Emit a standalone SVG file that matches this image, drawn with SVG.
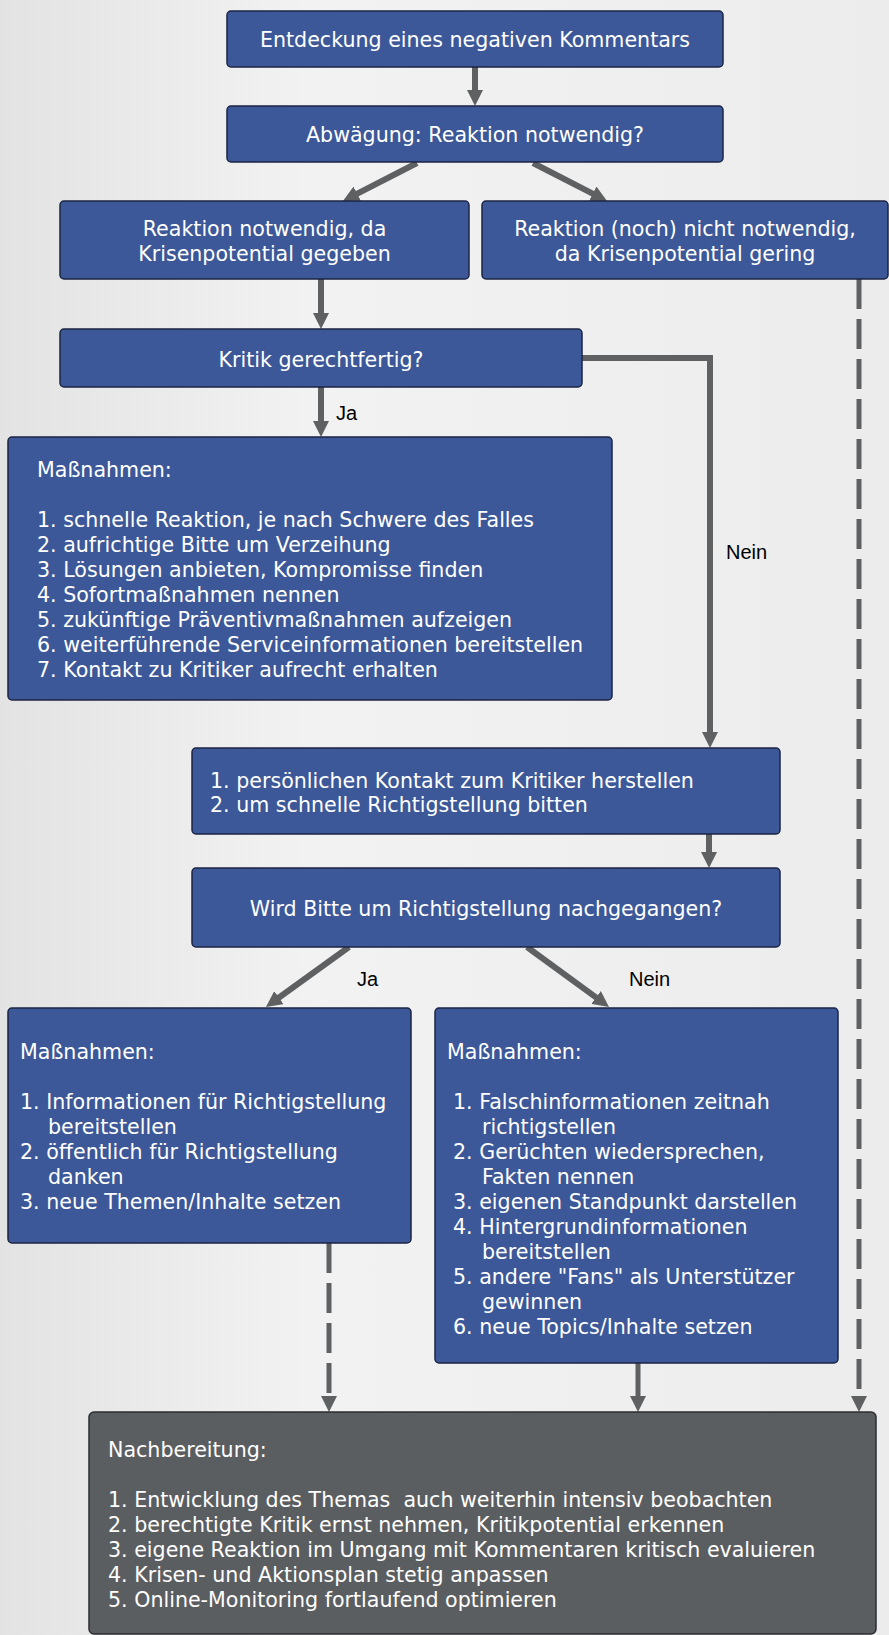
<svg xmlns="http://www.w3.org/2000/svg" width="889" height="1635" viewBox="0 0 889 1635">
  <defs>
    <linearGradient id="bg" x1="0" y1="0" x2="1" y2="0">
      <stop offset="0" stop-color="#e3e3e3"/>
      <stop offset="0.35" stop-color="#f2f2f2"/>
      <stop offset="1" stop-color="#ececec"/>
    </linearGradient>
    <marker id="ah" markerUnits="userSpaceOnUse" markerWidth="16" markerHeight="16" refX="2" refY="8" orient="auto">
      <path d="M0,0 L16,8 L0,16 z" fill="#5e6062"/>
    </marker>
    <style>
      .box { fill: #3c5898; stroke: #1b2544; stroke-width: 1.5; }
      .gbox { fill: #5b5e61; stroke: #2b2d30; stroke-width: 1.5; }
      .t { font-family: "DejaVu Sans", Verdana, sans-serif; font-size: 20.6px; fill: #ffffff; white-space: pre; }
      .c { text-anchor: middle; }
      .lbl { font-family: "Liberation Sans", Arial, sans-serif; font-size: 20px; fill: #000000; }
      .ln { fill: none; stroke: #5e6062; stroke-width: 6; }
      .dl { fill: none; stroke: #5e6062; stroke-width: 5; stroke-dasharray: 30 10; }
    </style>
  </defs>
  <rect x="0" y="0" width="889" height="1635" fill="url(#bg)"/>

  <g id="connectors">
    <line class="ln" x1="475" y1="67" x2="475" y2="92" marker-end="url(#ah)"/>
    <line class="ln" x1="417" y1="163" x2="355.4" y2="194.6" marker-end="url(#ah)"/>
    <line class="ln" x1="533" y1="163" x2="594.6" y2="194.6" marker-end="url(#ah)"/>
    <line class="ln" x1="321" y1="279" x2="321" y2="315" marker-end="url(#ah)"/>
    <line class="ln" x1="321" y1="387" x2="321" y2="423" marker-end="url(#ah)"/>
    <polyline class="ln" points="582,358 710,358 710,734" marker-end="url(#ah)"/>
    <line class="ln" x1="709" y1="834" x2="709" y2="854" marker-end="url(#ah)"/>
    <line class="ln" x1="349" y1="947" x2="277.3" y2="998.8" marker-end="url(#ah)"/>
    <line class="ln" x1="527" y1="947" x2="597.7" y2="998.7" marker-end="url(#ah)"/>
    <line class="dl" x1="859" y1="279" x2="859" y2="1398" marker-end="url(#ah)"/>
    <line class="dl" x1="329" y1="1243" x2="329" y2="1398" marker-end="url(#ah)"/>
    <line class="ln" x1="638" y1="1363" x2="638" y2="1398" marker-end="url(#ah)" style="stroke-width:5"/>
    <text class="lbl" x="336" y="420">Ja</text>
    <text class="lbl" x="726" y="559">Nein</text>
    <text class="lbl" x="357" y="986">Ja</text>
    <text class="lbl" x="629" y="986">Nein</text>
  </g>

  <g id="n1">
    <rect class="box" x="227" y="11" width="496" height="56" rx="4"/>
    <text class="t c" x="475" y="47">Entdeckung eines negativen Kommentars</text>
  </g>
  <g id="n2">
    <rect class="box" x="227" y="106" width="496" height="56" rx="4"/>
    <text class="t c" x="475" y="142">Abwägung: Reaktion notwendig?</text>
  </g>
  <g id="n3">
    <rect class="box" x="60" y="201" width="409" height="78" rx="4"/>
    <text class="t c" x="264.5" y="236">Reaktion notwendig, da</text>
    <text class="t c" x="264.5" y="261">Krisenpotential gegeben</text>
  </g>
  <g id="n4">
    <rect class="box" x="482" y="201" width="406" height="78" rx="4"/>
    <text class="t c" x="685" y="236">Reaktion (noch) nicht notwendig,</text>
    <text class="t c" x="685" y="261">da Krisenpotential gering</text>
  </g>
  <g id="n5">
    <rect class="box" x="60" y="329" width="522" height="58" rx="4"/>
    <text class="t c" x="321" y="367">Kritik gerechtfertig?</text>
  </g>
  <g id="n6">
    <rect class="box" x="8" y="437" width="604" height="263" rx="4"/>
    <text class="t" x="37" y="477">Maßnahmen:</text>
    <text class="t" x="37" y="527">1. schnelle Reaktion, je nach Schwere des Falles</text>
    <text class="t" x="37" y="552">2. aufrichtige Bitte um Verzeihung</text>
    <text class="t" x="37" y="577">3. Lösungen anbieten, Kompromisse finden</text>
    <text class="t" x="37" y="602">4. Sofortmaßnahmen nennen</text>
    <text class="t" x="37" y="627">5. zukünftige Präventivmaßnahmen aufzeigen</text>
    <text class="t" x="37" y="652">6. weiterführende Serviceinformationen bereitstellen</text>
    <text class="t" x="37" y="677">7. Kontakt zu Kritiker aufrecht erhalten</text>
  </g>
  <g id="n7">
    <rect class="box" x="192" y="748" width="588" height="86" rx="4"/>
    <text class="t" x="210" y="788">1. persönlichen Kontakt zum Kritiker herstellen</text>
    <text class="t" x="210" y="812">2. um schnelle Richtigstellung bitten</text>
  </g>
  <g id="n8">
    <rect class="box" x="192" y="868" width="588" height="79" rx="4"/>
    <text class="t c" x="486" y="916">Wird Bitte um Richtigstellung nachgegangen?</text>
  </g>
  <g id="n9">
    <rect class="box" x="8" y="1008" width="403" height="235" rx="4"/>
    <text class="t" x="20" y="1059">Maßnahmen:</text>
    <text class="t" x="20" y="1109">1. Informationen für Richtigstellung</text>
    <text class="t" x="48" y="1134">bereitstellen</text>
    <text class="t" x="20" y="1159">2. öffentlich für Richtigstellung</text>
    <text class="t" x="48" y="1184">danken</text>
    <text class="t" x="20" y="1209">3. neue Themen/Inhalte setzen</text>
  </g>
  <g id="n10">
    <rect class="box" x="435" y="1008" width="403" height="355" rx="4"/>
    <text class="t" x="447" y="1059">Maßnahmen:</text>
    <text class="t" x="453" y="1109">1. Falschinformationen zeitnah</text>
    <text class="t" x="482" y="1134">richtigstellen</text>
    <text class="t" x="453" y="1159">2. Gerüchten wiedersprechen,</text>
    <text class="t" x="482" y="1184">Fakten nennen</text>
    <text class="t" x="453" y="1209">3. eigenen Standpunkt darstellen</text>
    <text class="t" x="453" y="1234">4. Hintergrundinformationen</text>
    <text class="t" x="482" y="1259">bereitstellen</text>
    <text class="t" x="453" y="1284">5. andere "Fans" als Unterstützer</text>
    <text class="t" x="482" y="1309">gewinnen</text>
    <text class="t" x="453" y="1334">6. neue Topics/Inhalte setzen</text>
  </g>
  <g id="n11">
    <rect class="gbox" x="89" y="1412" width="787" height="222" rx="5"/>
    <text class="t" x="108" y="1457">Nachbereitung:</text>
    <text class="t" x="108" y="1507">1. Entwicklung des Themas  auch weiterhin intensiv beobachten</text>
    <text class="t" x="108" y="1532">2. berechtigte Kritik ernst nehmen, Kritikpotential erkennen</text>
    <text class="t" x="108" y="1557">3. eigene Reaktion im Umgang mit Kommentaren kritisch evaluieren</text>
    <text class="t" x="108" y="1582">4. Krisen- und Aktionsplan stetig anpassen</text>
    <text class="t" x="108" y="1607">5. Online-Monitoring fortlaufend optimieren</text>
  </g>
</svg>
